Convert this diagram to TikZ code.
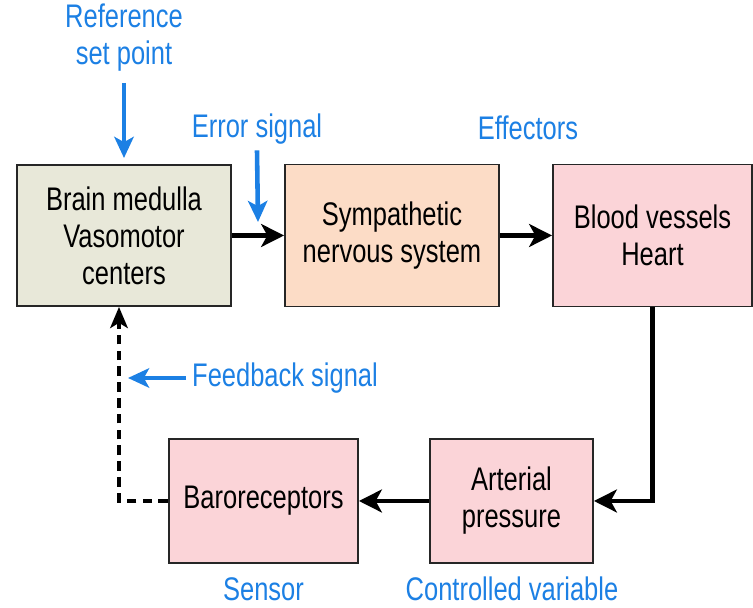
\documentclass[tikz,border=0pt]{standalone}
\usepackage{fontspec}
\setmainfont{Liberation Sans}[FakeStretch=0.78]
\usetikzlibrary{arrows.meta}

\definecolor{medullafill}{RGB}{232,232,217}
\definecolor{nervefill}{RGB}{252,220,198}
\definecolor{organfill}{RGB}{251,212,216}
\definecolor{cueblue}{RGB}{28,128,228}

\begin{document}
\begin{tikzpicture}[
		font=\fontsize{18.6}{21}\selectfont,
		box/.style={draw=black!85, line width=1.1pt, inner sep=0pt, align=center},
		flow/.style={line width=2.8pt, -{Stealth[length=13pt, width=13pt, inset=3.5pt]}},
		cue/.style={cueblue, line width=2.6pt, -{Stealth[length=12pt, width=11pt, inset=3pt]}},
		note/.style={text=cueblue, align=center}
	]
	\useasboundingbox (0,0) rectangle (15.06,12.16);

	% Top row
	\node[box, fill=medullafill, minimum width=4.28cm, minimum height=2.82cm] (brain) at (2.48,7.45)
		{Brain medulla\\Vasomotor\\centers};
	\node[box, fill=nervefill, minimum width=4.28cm, minimum height=2.84cm] (symp) at (7.84,7.45)
		{Sympathetic\\nervous system};
	\node[box, fill=organfill, minimum width=3.98cm, minimum height=2.84cm] (vessels) at (13.05,7.45)
		{Blood vessels\\Heart};

	% Bottom row
	\node[box, fill=organfill, minimum width=3.78cm, minimum height=2.48cm] (baro) at (5.27,2.14)
		{Baroreceptors};
	\node[box, fill=organfill, minimum width=3.26cm, minimum height=2.48cm] (pressure) at (10.23,2.14)
		{Arterial\\pressure};

	% Blue labels
	\node[note] (setpoint) at (2.48,11.4) {Reference\\set point};
	\node[note] (error) at (5.14,9.58) {Error signal};
	\node[note] (effectors) at (10.56,9.6) {Effectors};
	\node[note, anchor=west] (feedback) at (3.72,4.6) {Feedback signal};
	\node[note] (sensor) at (5.27,0.38) {Sensor};
	\node[note] (controlled) at (10.24,0.38) {Controlled variable};

	% Forward path
	\draw[flow] (brain) -- (symp);
	\draw[flow] (symp) -- (vessels);
	\draw[flow] (vessels.south) |- (pressure.east);
	\draw[flow] (pressure) -- (baro);

	% Feedback path
	\coordinate (loop) at (2.38,2.14);
	\draw[line width=2.2pt, dash pattern=on 5.5pt off 3.5pt, -{Stealth[length=12pt, width=10pt, inset=3pt]}]
		(baro.west) -- (loop) -- (loop |- brain.south);

	% Blue cues
	\coordinate (errtip) at (5.16,7.72);
	\coordinate (reftip) at (2.48,9.0);
	\coordinate (fbtip) at (2.56,4.6);
	\draw[cue] (setpoint.south) ++(0,-0.1) -- (reftip);
	\draw[cue] (error.south) -- (errtip);
	\draw[cue] (feedback.west) -- (fbtip);
\end{tikzpicture}
\end{document}
